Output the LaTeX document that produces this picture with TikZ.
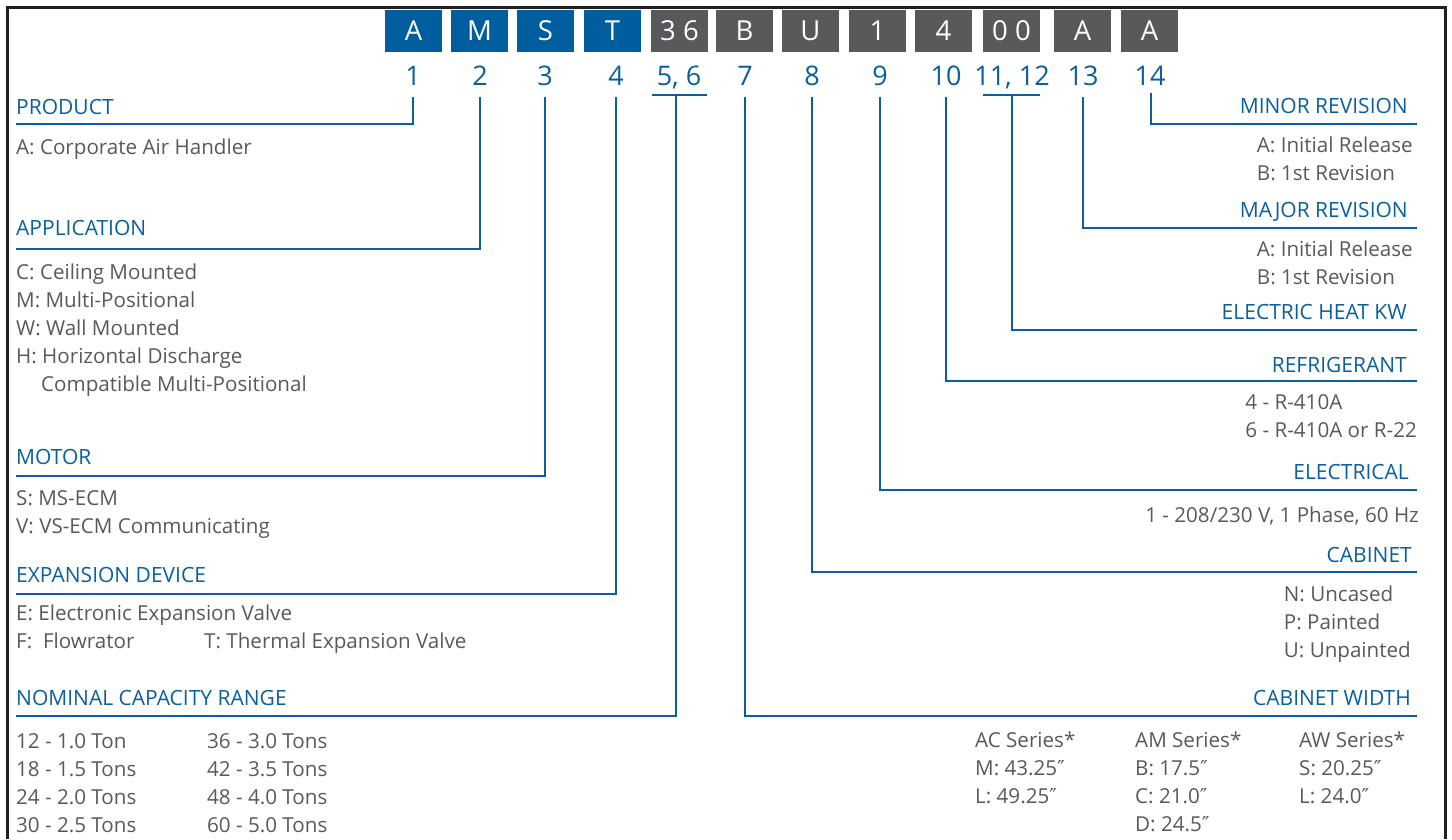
\documentclass[tikz,border=0pt]{standalone}
\usepackage{fontspec}
\setmainfont{Open Sans}
\newfontfamily\primefont{DejaVu Sans}
\newcommand{\dprm}{{\primefont ″}}
\definecolor{ablue}{HTML}{0A5F9E}
\definecolor{boxblue}{HTML}{005E9E}
\definecolor{boxgray}{HTML}{58595B}
\definecolor{txtgray}{HTML}{58595B}
\definecolor{framec}{HTML}{231F20}
\tikzset{
  body/.style={font=\fontsize{20.6}{24}\selectfont, text=txtgray, inner sep=0pt},
  head/.style={font=\fontsize{21}{26}\selectfont, text=ablue, inner sep=0pt},
  num/.style={font=\fontsize{27}{32}\selectfont, text=ablue, inner sep=0pt, anchor=base},
  codebox/.style={minimum width=57pt, minimum height=42pt, inner sep=0pt, text=white, font=\fontsize{27.5}{32}\selectfont},
  bluebox/.style={codebox, fill=boxblue},
  graybox/.style={codebox, fill=boxgray},
  conn/.style={draw=ablue, line width=2.6pt},
  framel/.style={draw=framec, line width=3pt},
}
\begin{document}
\begin{tikzpicture}[x=1pt,y=-1pt]
\useasboundingbox (0,0) rectangle (1452,839);
% frame
\coordinate (fbl) at (7,839);
\coordinate (ftl) at (7,7);
\coordinate (ftr) at (1445,7);
\coordinate (fbr) at (1445,839);
\draw[framel] (fbl) -- (ftl) -- (ftr) -- (fbr);
% code boxes
\node[bluebox] (b1) at (413.5,31) {A};
\node[bluebox] (b2) at (479.5,31) {M};
\node[bluebox] (b3) at (545.5,31) {S};
\node[bluebox] (b4) at (612.5,31) {T};
\node[graybox] (b5) at (679.5,31) {3 6};
\node[graybox] (b7) at (744.5,31) {B};
\node[graybox] (b8) at (810.5,31) {U};
\node[graybox] (b9) at (877.5,31) {1};
\node[graybox] (b10) at (943.5,31) {4};
\node[graybox] (b11) at (1011.5,31) {0 0};
\node[graybox] (b13) at (1082.5,31) {A};
\node[graybox] (b14) at (1149.5,31) {A};
% numbers
\node[num] (n1) at (413,85) {1};
\node[num] (n2) at (480,85) {2};
\node[num] (n3) at (545,85) {3};
\node[num] (n4) at (616,85) {4};
\node[num] (n5) at (679,85) {5, 6};
\node[num] (n7) at (745,85) {7};
\node[num] (n8) at (812,85) {8};
\node[num] (n9) at (880,85) {9};
\node[num] (n10) at (946,85) {10};
\node[num] (n11) at (1012,85) {11, 12};
\node[num] (n13) at (1083,85) {13};
\node[num] (n14) at (1150,85) {14};
% connector start points
\coordinate (t1) at (413,97);
\coordinate (t2) at (480,97);
\coordinate (t3) at (545,97);
\coordinate (t4) at (616,97);
\coordinate (t5) at (676,95);
\coordinate (t5a) at (652,95);
\coordinate (t5b) at (707,95);
\coordinate (t7) at (745,97);
\coordinate (t8) at (812,97);
\coordinate (t9) at (880,97);
\coordinate (t10) at (946,97);
\coordinate (t11) at (1012,95);
\coordinate (t11a) at (983,95);
\coordinate (t11b) at (1040,95);
\coordinate (t13) at (1083,97);
\coordinate (t14) at (1151,93);
% connector end points
\coordinate (e1) at (16,124);
\coordinate (e2) at (16,249);
\coordinate (e3) at (16,476);
\coordinate (e4) at (16,594);
\coordinate (e5) at (16,716);
\coordinate (e7) at (1417,716);
\coordinate (e8) at (1417,572);
\coordinate (e9) at (1417,490);
\coordinate (e10) at (1417,381);
\coordinate (e11) at (1417,330);
\coordinate (e13) at (1417,228);
\coordinate (e14) at (1417,124);
\draw[conn] (t1) |- (e1);
\draw[conn] (t2) |- (e2);
\draw[conn] (t3) |- (e3);
\draw[conn] (t4) |- (e4);
\draw[conn] (t5a) -- (t5b);
\draw[conn] (t5) |- (e5);
\draw[conn] (t7) |- (e7);
\draw[conn] (t8) |- (e8);
\draw[conn] (t9) |- (e9);
\draw[conn] (t10) |- (e10);
\draw[conn] (t11a) -- (t11b);
\draw[conn] (t11) |- (e11);
\draw[conn] (t13) |- (e13);
\draw[conn] (t14) |- (e14);
% left headings
\node[head, anchor=base west] (hprod) at (16,114) {PRODUCT};
\node[head, anchor=base west] (happ) at (16,235) {APPLICATION};
\node[head, anchor=base west] (hmot) at (16,464) {MOTOR};
\node[head, anchor=base west] (hexp) at (16,582) {EXPANSION DEVICE};
\node[head, anchor=base west] (hnom) at (16,705) {NOMINAL CAPACITY RANGE};
% left bodies
\node[body, anchor=base west] (prod1) at (16,154) {A: Corporate Air Handler};
\node[body, anchor=base west] (app1) at (16,279) {C: Ceiling Mounted};
\node[body, anchor=base west] (app2) at (16,307) {M: Multi-Positional};
\node[body, anchor=base west] (app3) at (16,335) {W: Wall Mounted};
\node[body, anchor=base west] (app4) at (16,363) {H: Horizontal Discharge};
\node[body, anchor=base west] (app5) at (41,391) {Compatible Multi-Positional};
\node[body, anchor=base west] (mot1) at (16,505) {S: MS-ECM};
\node[body, anchor=base west] (mot2) at (16,533) {V: VS-ECM Communicating};
\node[body, anchor=base west] (exp1) at (16,620) {E: Electronic Expansion Valve};
\node[body, anchor=base west] (exp2) at (16,648) {F:\ \ Flowrator};
\node[body, anchor=base west] (exp3) at (204,648) {T: Thermal Expansion Valve};
\node[body, anchor=base west] (nom1) at (16,748) {12 - 1.0 Ton};
\node[body, anchor=base west] (nom2) at (16,776) {18 - 1.5 Tons};
\node[body, anchor=base west] (nom3) at (16,804) {24 - 2.0 Tons};
\node[body, anchor=base west] (nom4) at (16,832) {30 - 2.5 Tons};
\node[body, anchor=base west] (nom5) at (207,748) {36 - 3.0 Tons};
\node[body, anchor=base west] (nom6) at (207,776) {42 - 3.5 Tons};
\node[body, anchor=base west] (nom7) at (207,804) {48 - 4.0 Tons};
\node[body, anchor=base west] (nom8) at (207,832) {60 - 5.0 Tons};
% right headings
\node[head, anchor=base east] (hmin) at (1408,113) {MINOR REVISION};
\node[head, anchor=base east] (hmaj) at (1408,217) {MAJOR REVISION};
\node[head, anchor=base east] (hheat) at (1407,319) {ELECTRIC HEAT KW};
\node[head, anchor=base east] (href) at (1407,372) {REFRIGERANT};
\node[head, anchor=base east] (helec) at (1409,479) {ELECTRICAL};
\node[head, anchor=base east] (hcab) at (1412,562) {CABINET};
\node[head, anchor=base east] (hcw) at (1411,705) {CABINET WIDTH};
% right bodies
\node[body, anchor=base east] (min1) at (1413,152) {A: Initial Release};
\node[body, anchor=base west] (min2) at ([yshift=-28pt]min1.base west) {B: 1st Revision};
\node[body, anchor=base east] (maj1) at (1413,256) {A: Initial Release};
\node[body, anchor=base west] (maj2) at ([yshift=-28pt]maj1.base west) {B: 1st Revision};
\node[body, anchor=base east] (ref2) at (1417,437) {6 - R-410A or R-22};
\node[body, anchor=base west] (ref1) at ([yshift=28pt]ref2.base west) {4 - R-410A};
\node[body, anchor=base east] (elec1) at (1419,522) {1 - 208/230 V, 1 Phase, 60 Hz};
\node[body, anchor=base east] (cab3) at (1411,657) {U: Unpainted};
\node[body, anchor=base west] (cab2) at ([yshift=28pt]cab3.base west) {P: Painted};
\node[body, anchor=base west] (cab1) at ([yshift=56pt]cab3.base west) {N: Uncased};
\node[body, anchor=base west] (ac0) at (975,747) {AC Series*};
\node[body, anchor=base west] (ac1) at (975,775) {M: 43.25\dprm};
\node[body, anchor=base west] (ac2) at (975,803) {L: 49.25\dprm};
\node[body, anchor=base west] (am0) at (1135,747) {AM Series*};
\node[body, anchor=base west] (am1) at (1135,775) {B: 17.5\dprm};
\node[body, anchor=base west] (am2) at (1135,803) {C: 21.0\dprm};
\node[body, anchor=base west] (am3) at (1135,831) {D: 24.5\dprm};
\node[body, anchor=base west] (aw0) at (1299,747) {AW Series*};
\node[body, anchor=base west] (aw1) at (1299,775) {S: 20.25\dprm};
\node[body, anchor=base west] (aw2) at (1299,803) {L: 24.0\dprm};
\end{tikzpicture}
\end{document}
